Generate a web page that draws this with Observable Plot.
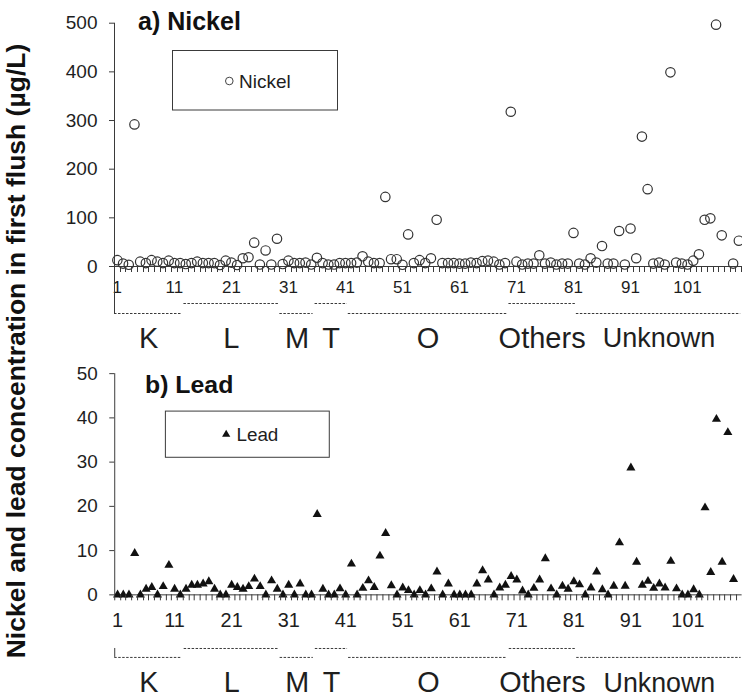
<!DOCTYPE html>
<html>
<head>
<meta charset="utf-8">
<script src="https://cdn.jsdelivr.net/npm/d3@7"></script>
<script src="https://cdn.jsdelivr.net/npm/@observablehq/plot@0.6"></script>
<style>
  body { margin: 0; background: #fff; }
  #chart { position: relative; width: 742px; height: 700px; overflow: hidden;
           font-family: Arial, "Liberation Sans", sans-serif; }
  #chart svg { position: absolute; left: 0; overflow: visible; }
</style>
</head>
<body>
<div id="chart"></div>
<script>
// Sample numbers 1..110 (roof sites), grouped by roof type
const sampleIds = d3.range(1, 111);

// First-flush nickel concentration (µg/L); null = no measurement
const nickel = [
  13, 6, 3.5, 292, 10, 7, 13, 10, 7, 12,
  7, 7, 5, 7, 10, 7, 7, 7, 3, 12,
  8, 3, 17, 19, 49, 4, 33, 4, 57, 5,
  12, 7, 7, 8, 4, 18, 7, 4, 4, 7,
  7, 7, 8, 21, 10, 7, 7, 143, 15, 15,
  3.5, 66, 7, 13, 7, 17, 96, 7, 7, 7,
  6, 6, 8, 7, 11, 12, 10, 4, 7, 318,
  10, 4, 6, 6, 23, 6, 8, 4, 6, 6,
  69, 6, 4, 17, 8, 42, 6, 6, 73, 4,
  78, 17, 267, 159, 6, 8, 4, 399, 8, 6,
  4, 12, 25, 96, 99, 497, 64, null, 6, 53
];

// First-flush lead concentration (µg/L)
const lead = [
  0, 0, 0, 9.4, 0, 1.3, 1.7, 0, 1.9, 6.7,
  1.3, 0, 1.3, 2.2, 2.2, 2.5, 3.0, 1.3, 0, 0,
  2.2, 1.7, 1.3, 1.9, 3.6, 1.9, 0, 3.2, 1.3, 0,
  2.2, 0, 2.5, 0, 0, 18.2, 1.3, 0, 0, 1.4,
  0, 7.0, 0, 1.5, 3.2, 1.7, 8.8, 13.9, 2.1, 0,
  1.6, 1.0, 0, 1.0, 0, 1.4, 5.2, 0, 2.5, 0,
  0, 0, 0, 2.5, 5.5, 3.4, 0, 1.6, 2.2, 4.2,
  3.4, 0.9, 0, 1.5, 3.4, 8.2, 1.4, 0, 2.0, 1.3,
  3.0, 2.3, 0, 1.6, 5.2, 1.2, 0, 2.0, 11.8, 2.0,
  28.7, 7.4, 2.2, 3.1, 1.5, 2.5, 1.6, 7.6, 1.4, 0,
  0, 1.2, 0, 19.7, 5.1, 39.7, 7.4, 36.7, 3.5, null
];

// Category axis labels and roof-type groups
const xTickLabels = [1, 11, 21, 31, 41, 51, 61, 71, 81, 91, 101];
const groupNames = ["K", "L", "M", "T", "O", "Others", "Unknown"];
const groupStart = [1, 13, 30, 36, 42, 70, 82];
const groupEnd   = [12, 29, 35, 41, 69, 81, 110];

const nickelTicks = [0, 100, 200, 300, 400, 500];
const leadTicks = [0, 10, 20, 30, 40, 50];

const AXIS = "#3a3a3a";
const INK = "#1e1e1e";
const FONT = 'Arial, "Liberation Sans", sans-serif';

const groups = groupNames.map((name, k) => ({
  name,
  x1: groupStart[k] - 0.5,
  x2: groupEnd[k] + 0.5,
  mid: (groupStart[k] + groupEnd[k]) / 2,
  near: k % 2 === 1
}));
// tick marks sit between categories
const boundaries = d3.range(0.5, 111, 1);
const zero = () => 0;

function panel(o) {
  const data = sampleIds.map((id, k) => ({id, value: o.values[k]})).filter(d => d.value != null);
  const marks = [
    Plot.ruleY([0], {stroke: AXIS, strokeWidth: 1}),
    Plot.axisX({ticks: xTickLabels, tickSize: 0, tickPadding: o.xPad, fontSize: o.xFont, fill: INK, label: null}),
    Plot.axisY({ticks: o.yTicks, tickSize: 5, tickPadding: 12, fontSize: 19, fill: INK, stroke: AXIS, label: null}),
    Plot.ruleX([0.5], {stroke: AXIS, insetBottom: o.axisExt}),
    Plot.ruleY(groups.filter(g => g.near), {x1: "x1", x2: "x2", y: zero, dy: o.nearDy,
      stroke: AXIS, strokeDasharray: "2.5,1.5", insetLeft: 1, insetRight: 1}),
    Plot.ruleY(groups.filter(g => !g.near), {x1: "x1", x2: "x2", y: zero, dy: o.farDy,
      stroke: AXIS, strokeDasharray: "2.5,1.5", insetLeft: 0, insetRight: 1}),
    Plot.text(groups, {x: "mid", y: zero, text: "name", dy: o.groupDy, fill: INK,
      fontSize: d => d.name === "Unknown" ? 27 : 29}),
    o.dot(data)
  ];
  if (o.cornerTick) {
    // short upright at the start of the first group bracket
    marks.push(Plot.ruleX([0.5], {y1: zero, y2: zero, stroke: AXIS, insetTop: o.nearDy, insetBottom: -o.farDy}));
  }
  const svg = Plot.plot({
    width: o.width, height: o.height,
    marginLeft: o.marginLeft, marginRight: o.marginRight,
    marginTop: o.marginTop, marginBottom: o.marginBottom,
    style: {fontFamily: FONT, fontSize: "17px", color: INK, background: "transparent", overflow: "visible"},
    x: {domain: [0.5, 110.5]},
    y: {domain: [0, o.yMax]},
    marks
  });
  svg.style.top = o.top + "px";

  const s = d3.select(svg);
  const xs = svg.scale("x"), ys = svg.scale("y");
  const y0 = ys.apply(0);
  // category-axis tick marks, between samples, hanging below the zero line
  s.append("g").attr("stroke", AXIS).attr("stroke-width", 1)
    .selectAll("line").data(boundaries).join("line")
    .attr("x1", d => Math.round(xs.apply(d)) + 0.5).attr("x2", d => Math.round(xs.apply(d)) + 0.5)
    .attr("y1", y0).attr("y2", y0 + 6);
  // panel title
  s.append("text").attr("x", o.titleX).attr("y", o.titleY).attr("text-anchor", "start")
    .attr("font-family", FONT).attr("font-weight", "bold").attr("font-size", o.titleSize)
    .attr("fill", "#111").text(o.title);
  // legend box
  const L = o.legend;
  s.append("rect").attr("x", L.x).attr("y", L.y).attr("width", L.w).attr("height", L.h)
    .attr("fill", "#fff").attr("stroke", AXIS).attr("stroke-width", 1);
  o.legendMarker(s.append("g").attr("transform", `translate(${L.mx},${L.my})`));
  s.append("text").attr("x", L.tx).attr("y", L.ty).attr("text-anchor", "start")
    .attr("font-family", FONT).attr("font-size", L.fs).attr("fill", INK).text(o.seriesName);
  return svg;
}

const chart = document.getElementById("chart");

chart.appendChild(panel({
  values: nickel, yMax: 500, yTicks: nickelTicks,
  width: 742, height: 350, top: 0,
  marginLeft: 114, marginRight: 0.8, marginTop: 22.7, marginBottom: 84,
  xPad: 14, xFont: 17,
  axisExt: -47, nearDy: 37, farDy: 47, groupDy: 72, cornerTick: false,
  title: "a) Nickel", titleX: 138, titleY: 29.5, titleSize: 25,
  seriesName: "Nickel",
  legend: {x: 172.5, y: 50.5, w: 165, h: 59.5, mx: 229.3, my: 81, tx: 239, ty: 87.5, fs: 19},
  dot: d => Plot.dot(d, {x: "id", y: "value", r: 4.7, stroke: "#333", strokeWidth: 1.2, fill: "none"}),
  legendMarker: g => g.append("circle").attr("r", 3.8).attr("fill", "none").attr("stroke", "#444").attr("stroke-width", 1)
}));

chart.appendChild(panel({
  values: lead, yMax: 50, yTicks: leadTicks,
  width: 747, height: 350, top: 350,
  marginLeft: 115, marginRight: 0.4, marginTop: 23.3, marginBottom: 104,
  xPad: 18, xFont: 20,
  axisExt: 0, nearDy: 54, farDy: 63, groupDy: 89, cornerTick: true,
  title: "b) Lead", titleX: 146, titleY: 43, titleSize: 25,
  seriesName: "Lead",
  legend: {x: 166.5, y: 61.5, w: 165, h: 46.5, mx: 227.7, my: 85, tx: 238, ty: 91.5, fs: 19},
  dot: d => Plot.dot(d, {x: "id", y: "value", symbol: "triangle", r: 3.4, fill: "#111", stroke: "none"}),
  legendMarker: g => g.append("path").attr("d", d3.symbol(d3.symbolTriangle, 30)()).attr("fill", "#111")
}));

// shared y-axis title spanning both panels
const overlay = d3.select(chart).append("svg")
  .attr("width", 60).attr("height", 700).style("top", "0px").style("pointer-events", "none");
overlay.append("text")
  .attr("transform", "translate(25,351) rotate(-90)")
  .attr("text-anchor", "middle")
  .attr("font-family", FONT).attr("font-weight", "bold").attr("font-size", 26.5)
  .attr("fill", "#111")
  .text("Nickel and lead concentration in first flush (µg/L)");
</script>
</body>
</html>
